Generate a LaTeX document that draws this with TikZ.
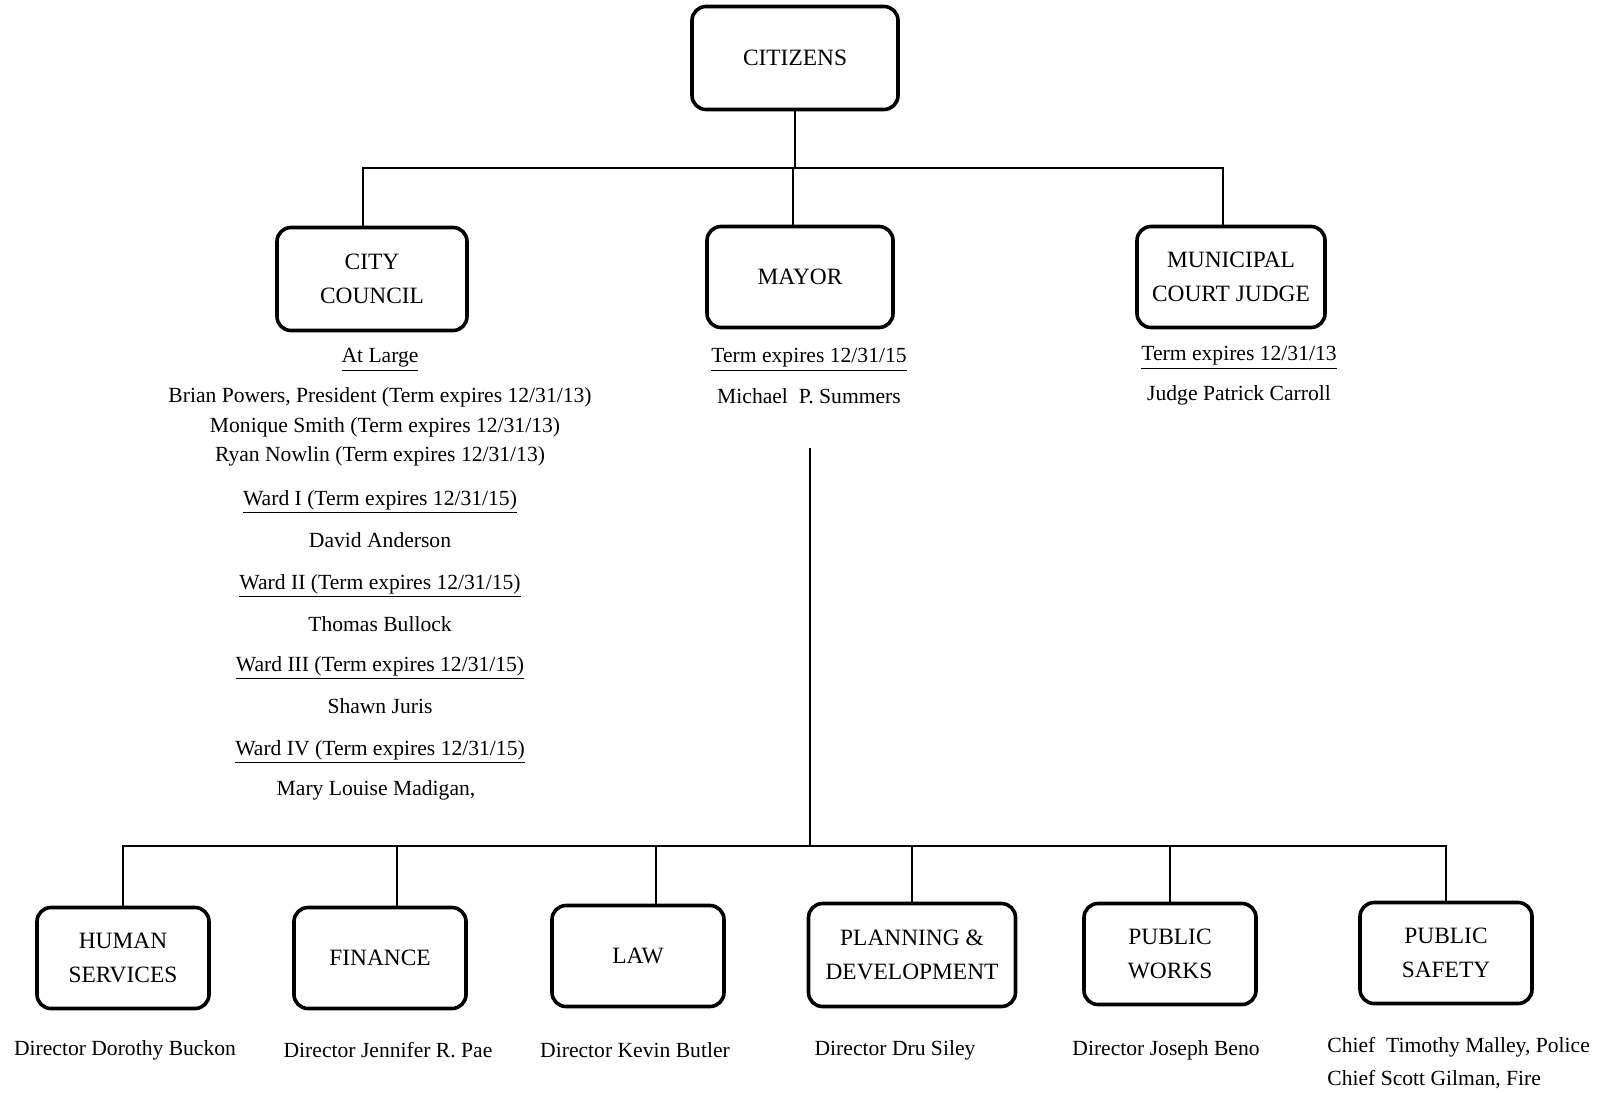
\documentclass[tikz,border=0pt]{standalone}
\usepackage{fontspec}
\setmainfont{Liberation Serif}
\usetikzlibrary{positioning}

\begin{document}
\begin{tikzpicture}[x=0.5pt, y=-0.5pt,
  office/.style={draw, line width=1.8pt, rounded corners=7pt, align=center,
    inner sep=0pt, minimum width=86pt, minimum height=50.5pt,
    font=\fontsize{11.7}{16.8}\selectfont},
  who/.style={inner sep=1pt, yshift=-2pt, font=\fontsize{10.8}{13}\selectfont},
  link/.style={line width=0.9pt}]
  \useasboundingbox (0,0) rectangle (1598,1092);
  % top row
  \node[office, minimum width=103pt, minimum height=51.5pt] (citizens) at (795,58){CITIZENS};
  \node[office, minimum width=95pt, minimum height=51.5pt] (council) at (372,279){CITY\\COUNCIL};
  \node[office, minimum width=93pt, minimum height=50.5pt] (mayor) at (800,277){MAYOR};
  \node[office, minimum width=94pt, minimum height=50.5pt] (judge) at (1231,277){MUNICIPAL\\COURT JUDGE};
  % council members
  \node[who] (atlarge) at (380,356){\underline{At Large}};
  \node[who] (powers) at (380,393){Brian Powers, President (Term expires 12/31/13)};
  \node[who] (smith) at (385,423){Monique Smith (Term expires 12/31/13)};
  \node[who] (nowlin) at (380,452){Ryan Nowlin (Term expires 12/31/13)};
  \node[who] (wardI) at (380,498){\underline{Ward I (Term expires 12/31/15)}};
  \node[who] (anderson) at (380,536){David Anderson};
  \node[who] (wardII) at (380,582){\underline{Ward II (Term expires 12/31/15)}};
  \node[who] (bullock) at (380,620){Thomas Bullock};
  \node[who] (wardIII) at (380,664){\underline{Ward III (Term expires 12/31/15)}};
  \node[who] (juris) at (380,702){Shawn Juris};
  \node[who] (wardIV) at (380,748){\underline{Ward IV (Term expires 12/31/15)}};
  \node[who] (madigan) at (376,786){Mary Louise Madigan,};
  % mayor and judge
  \node[who] (mayorterm) at (809,356){\underline{Term expires 12/31/15}};
  \node[who] (summers) at (809,392){Michael\ \ P. Summers};
  \node[who] (judgeterm) at (1239,354){\underline{Term expires 12/31/13}};
  \node[who] (carroll) at (1239,391){Judge Patrick Carroll};
  % departments
  \node[office] (hs) at (123,958){HUMAN\\SERVICES};
  \node[office] (fin) at (380,958){FINANCE};
  \node[office] (law) at (638,956){LAW};
  \node[office, minimum width=103.5pt, minimum height=51.5pt] (pd) at (912,955){PLANNING \&\\DEVELOPMENT};
  \node[office] (pw) at (1170,954){PUBLIC\\WORKS};
  \node[office] (ps) at (1446,953){PUBLIC\\SAFETY};
  \node[who] (buckon) at (125,1046){Director Dorothy Buckon};
  \node[who] (pae) at (388,1046){Director Jennifer R. Pae};
  \node[who] (butler) at (635,1046){Director Kevin Butler};
  \node[who] (siley) at (895,1046){Director Dru Siley};
  \node[who] (beno) at (1166,1046){Director Joseph Beno};
  \node[who, anchor=west] (malley) at (1325,1043){Chief\ \ Timothy Malley, Police};
  \node[who, anchor=west] (gilman) at (1325,1076){Chief Scott Gilman, Fire};
  % lines
  \coordinate (bar) at (citizens.south |- 0,168);
  \draw[link] (citizens.south) -- (bar);
  \draw[link] ([xshift=-4.5pt]council.north) |- (bar) -| ([xshift=-4pt]judge.north);
  \draw[link] (bar) -| ([xshift=-3.5pt]mayor.north);
  \coordinate (mayorfoot) at (810,448);
  \coordinate (hub) at (810,846);
  \draw[link] (mayorfoot) -- (hub);
  \draw[link] (hs.north) |- (hub) -| (ps.north);
  \foreach \d/\s in {fin/8.5, law/9, pd/0, pw/0}
    \draw[link] ([xshift=\s pt]\d.north) -- ([xshift=\s pt]\d.north |- hub);
\end{tikzpicture}
\end{document}
